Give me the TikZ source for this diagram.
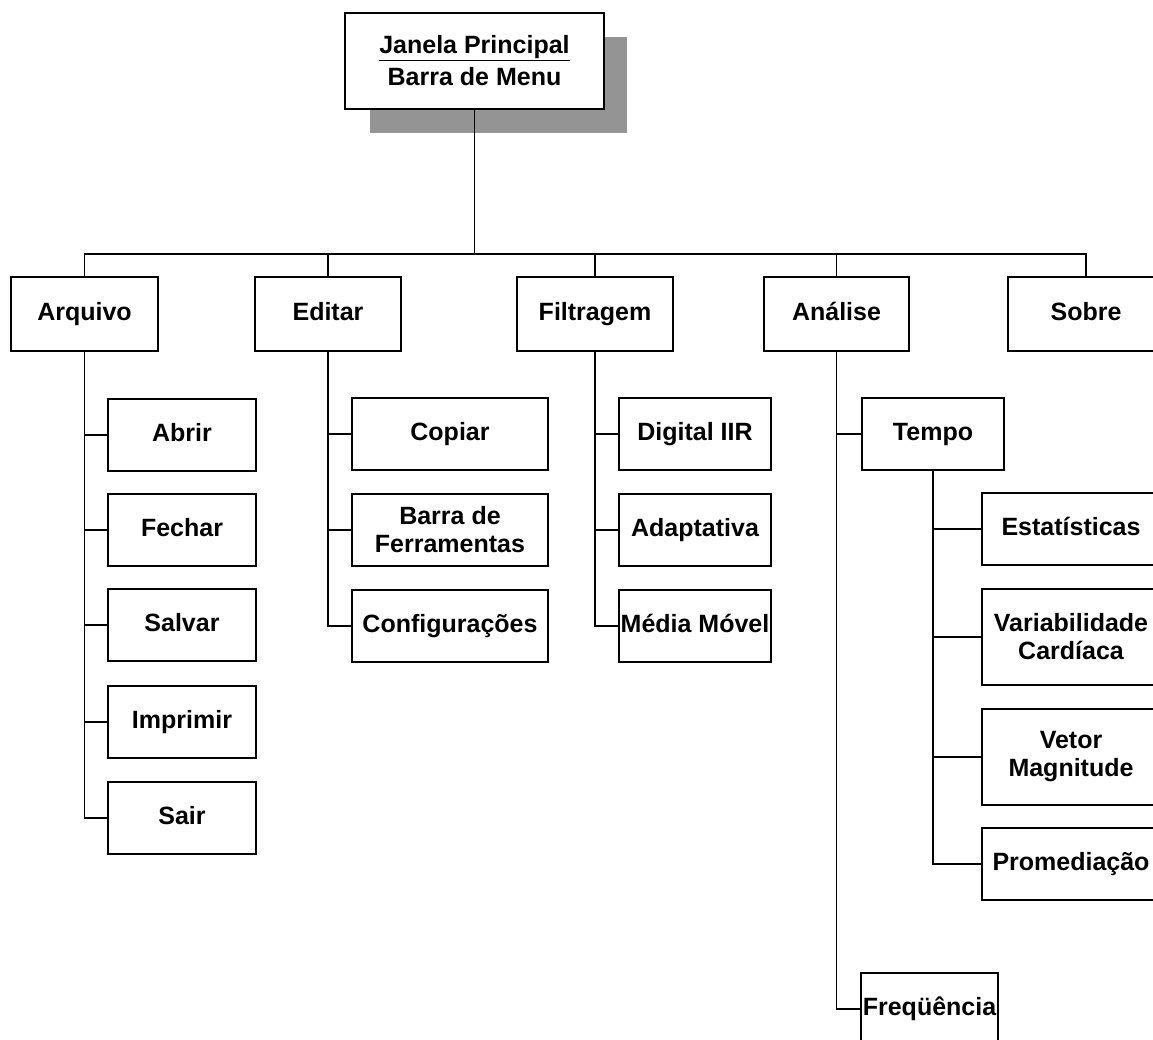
\documentclass[tikz,border=0pt]{standalone}
\usepackage{fontspec}
\setmainfont{Liberation Sans}
\begin{document}
\begin{tikzpicture}[x=1pt,y=-1pt,
  box/.style={draw, line width=2pt, inner sep=0pt, align=center, fill=white,
    font=\fontsize{25}{28}\selectfont\bfseries},
  one/.style={text height=18pt, text depth=5pt},
  conn/.style={line width=1.2pt},
  top/.style={box, one, minimum height=74pt},
  ach/.style={box, one, minimum width=148pt, minimum height=72pt},
  ech/.style={box, minimum width=196pt, minimum height=72pt},
  fch/.style={box, one, minimum width=152pt, minimum height=72pt},
  tch/.style={box, minimum width=178pt}]
\clip (0,0) rectangle (1153,1040);
% shadow
\fill[black!42] (370,37) rectangle (627,133);
\node[box, minimum width=259pt, minimum height=96pt, font=\fontsize{25}{32}\selectfont\bfseries] (main) at (474.5,61) {\underline{Janela Principal}\\Barra de Menu};
\coordinate (bus) at (474.5,254);
% top level
\node[top, minimum width=147pt] (arq) at (84.5,314) {Arquivo};
\node[top, minimum width=146pt] (edi) at (328,314) {Editar};
\node[top, minimum width=156pt] (fil) at (595,314) {Filtragem};
\node[top, minimum width=145pt] (ana) at (836.5,314) {Análise};
\node[top, minimum width=156pt] (sob) at (1086,314) {Sobre};
\draw[conn] (main.south) -- (bus);
\foreach \n in {arq,edi,fil,ana,sob} \draw[conn] (\n.north) |- (bus);
% Arquivo
\node[ach] (abr) at (182,435) {Abrir};
\node[ach] (fec) at (182,530) {Fechar};
\node[ach] (sal) at (182,625) {Salvar};
\node[ach] (imp) at (182,722) {Imprimir};
\node[ach] (sai) at (182,818) {Sair};
\foreach \n in {abr,fec,sal,imp,sai} \draw[conn] (arq.south) |- (\n.west);
% Editar
\node[ech, one] (cop) at (450,434) {Copiar};
\node[ech] (bar) at (450,530) {Barra de\\Ferramentas};
\node[ech, one] (cfg) at (450,626) {Configurações};
\foreach \n in {cop,bar,cfg} \draw[conn] (edi.south) |- (\n.west);
% Filtragem
\node[fch] (dig) at (695,434) {Digital IIR};
\node[fch] (ada) at (695,530) {Adaptativa};
\node[fch] (med) at (695,626) {Média Móvel};
\foreach \n in {dig,ada,med} \draw[conn] (fil.south) |- (\n.west);
% Analise
\node[box, one, minimum width=142pt, minimum height=72pt] (tem) at (933,434) {Tempo};
\node[box, one, minimum width=137pt, minimum height=72pt] (fre) at (929.5,1009) {Freqüência};
\foreach \n in {tem,fre} \draw[conn] (ana.south) |- (\n.west);
% Tempo
\node[tch, one, minimum height=72pt] (est) at (1071,529) {Estatísticas};
\node[tch, minimum height=96pt] (var) at (1071,637) {Variabilidade\\Cardíaca};
\node[tch, minimum height=96pt] (vet) at (1071,757) {Vetor\\Magnitude};
\node[tch, one, minimum height=72pt] (pro) at (1071,864) {Promediação};
\foreach \n in {est,var,vet,pro} \draw[conn] (tem.south) |- (\n.west);
\end{tikzpicture}
\end{document}
